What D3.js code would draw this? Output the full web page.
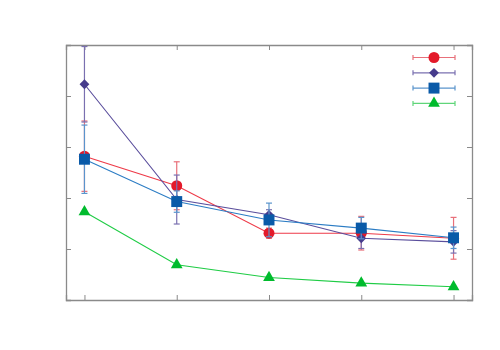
<!DOCTYPE html>
<html><head><meta charset="utf-8">
<script src="https://cdn.jsdelivr.net/npm/d3@7/dist/d3.min.js"></script>
<style>body{margin:0;background:#fff}</style></head>
<body><svg id="c" width="500" height="350"></svg>
<script>
const categories = [1, 2, 3, 4, 5];
const yTicks = [0, 1, 2, 3, 4, 5];
const seriesNames = ["Red", "Purple", "Blue", "Green"];
const redValues = [2.82, 2.24, 1.31, 1.31, 1.21];
const redErrors = [0.69, 0.47, 0.10, 0.33, 0.41];
const purpleValues = [4.23, 1.97, 1.67, 1.21, 1.14];
const purpleErrors = [0.74, 0.48, 0.10, 0.20, 0.22];
const blueValues = [2.76, 1.93, 1.57, 1.41, 1.22];
const blueErrors = [0.67, 0.21, 0.33, 0.21, 0.21];
const greenValues = [1.73, 0.69, 0.44, 0.33, 0.26];
const greenErrors = [0, 0, 0, 0, 0];

const series = [
  {name: seriesNames[0], vals: redValues, errs: redErrors, color: "#e31a2a", line: "#ee3a48", err: "#e8707a", sym: d3.symbolCircle, size: 95, rot: 0},
  {name: seriesNames[1], vals: purpleValues, errs: purpleErrors, color: "#463b8c", line: "#5a4e9c", err: "#7a70b0", sym: d3.symbolSquare, size: 48, rot: 45},
  {name: seriesNames[2], vals: blueValues, errs: blueErrors, color: "#0a5aa8", line: "#2b7cc4", err: "#5a94cc", sym: d3.symbolSquare, size: 120, rot: 0},
  {name: seriesNames[3], vals: greenValues, errs: greenErrors, color: "#00bb2d", line: "#1fcc45", err: "#60d57a", sym: d3.symbolTriangle, size: 60, rot: 0}
];

const L = 66, R = 472, T = 45, B = 300;
const svg = d3.select("#c");
const x = d3.scaleLinear().domain([0.8, 5.2]).range([L, R]);
const y = d3.scaleLinear().domain([0, 5]).range([B, T]);

const axColor = "#8a8a8a";
const gB = svg.append("g").attr("transform", `translate(0,${B})`).call(d3.axisBottom(x).tickValues(categories).tickSize(-5).tickFormat(""));
const gT = svg.append("g").attr("transform", `translate(0,${T})`).call(d3.axisTop(x).tickValues(categories).tickSize(-5).tickFormat(""));
const gL = svg.append("g").attr("transform", `translate(${L},0)`).call(d3.axisLeft(y).tickValues(yTicks).tickSize(-5).tickFormat(""));
const gR = svg.append("g").attr("transform", `translate(${R},0)`).call(d3.axisRight(y).tickValues(yTicks).tickSize(-5).tickFormat(""));
[gB, gT, gL, gR].forEach(g => {
  g.select(".domain").attr("stroke", axColor).attr("stroke-width", 1.3);
  g.selectAll(".tick line").attr("stroke", axColor).attr("stroke-width", 1);
});

const capW = 3;
series.forEach(s => {
  const g = svg.append("g");
  const pts = categories.map((c, i) => ({c, v: s.vals[i], e: s.errs[i]}));
  g.append("path").datum(pts)
    .attr("d", d3.line().x(d => x(d.c)).y(d => y(d.v)))
    .attr("fill", "none").attr("stroke", s.line).attr("stroke-width", 1.1);
  pts.filter(d => d.e > 0).forEach(d => {
    const cx = x(d.c), y1 = y(d.v + d.e), y2 = y(d.v - d.e);
    g.append("line").attr("x1", cx).attr("x2", cx).attr("y1", y1).attr("y2", y2).attr("stroke", s.err).attr("stroke-width", 1.2);
    [y1, y2].forEach(yy => g.append("line").attr("x1", cx - capW).attr("x2", cx + capW).attr("y1", yy).attr("y2", yy).attr("stroke", s.err).attr("stroke-width", 1.2));
  });
  g.selectAll("path.m").data(pts).enter().append("path").attr("class", "m")
    .attr("transform", d => `translate(${x(d.c)},${y(d.v)}) rotate(${s.rot})`)
    .attr("d", d3.symbol().type(s.sym).size(s.size))
    .attr("fill", s.color);
});

const lx1 = 413, lx2 = 455, lm = 434;
series.forEach((s, i) => {
  const yy = 57.5 + i * 15.3;
  const g = svg.append("g");
  g.append("line").attr("x1", lx1).attr("x2", lx2).attr("y1", yy).attr("y2", yy).attr("stroke", s.err).attr("stroke-width", 1.2);
  [lx1, lx2].forEach(xx => g.append("line").attr("x1", xx).attr("x2", xx).attr("y1", yy - 2.5).attr("y2", yy + 2.5).attr("stroke", s.err).attr("stroke-width", 1.2));
  g.append("path").attr("transform", `translate(${lm},${yy}) rotate(${s.rot})`)
    .attr("d", d3.symbol().type(s.sym).size(s.size)).attr("fill", s.color);
});
</script></body></html>
